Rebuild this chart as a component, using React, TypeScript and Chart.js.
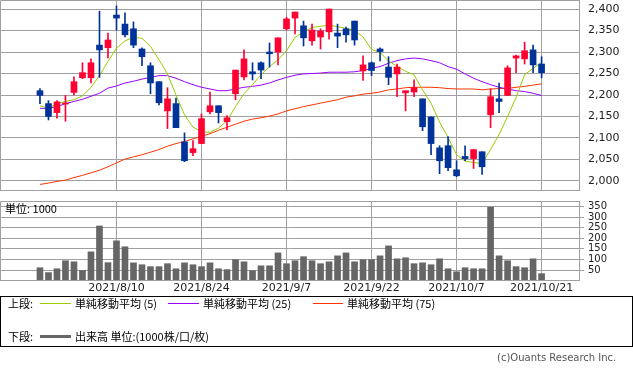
import React, { useEffect, useRef } from "react";
import { Chart, registerables } from "chart.js";
Chart.register(...registerables);

// trading days 2021/7/27 .. 2021/10/21 (index 0..59)
const tickIndex = [9, 19, 29, 39, 49, 59];
const tickLabels = ["2021/8/10", "2021/8/24", "2021/9/7", "2021/9/22", "2021/10/7", "2021/10/21"];

const openP = [2210, 2180, 2159, 2179, 2206, 2240, 2240, 2316, 2310, 2386, 2365, 2354, 2307, 2268, 2231, 2163, 2180, 2091, 2066, 2087, 2161, 2175, 2138, 2203, 2242, 2254, 2275, 2300, 2300, 2354, 2379, 2361, 2326, 2335, 2347, 2344, 2354, 2372, 2256, 2275, 2307, 2265, 2249, 2205, 2207, 2191, 2149, 2077, 2082, 2026, 2057, 2052, 2068, 2154, 2191, 2199, 2286, 2284, 2305, 2272];
const highP = [2215, 2187, 2187, 2199, 2242, 2275, 2284, 2395, 2344, 2407, 2391, 2370, 2310, 2275, 2231, 2217, 2193, 2112, 2094, 2156, 2207, 2175, 2152, 2258, 2305, 2275, 2277, 2321, 2333, 2381, 2393, 2372, 2365, 2354, 2400, 2365, 2358, 2372, 2291, 2277, 2310, 2289, 2272, 2210, 2235, 2191, 2149, 2082, 2103, 2047, 2082, 2073, 2068, 2214, 2228, 2268, 2293, 2323, 2316, 2289];
const lowP = [2180, 2142, 2146, 2139, 2200, 2238, 2228, 2241, 2286, 2351, 2335, 2310, 2268, 2203, 2177, 2122, 2124, 2045, 2059, 2087, 2156, 2135, 2119, 2189, 2235, 2235, 2238, 2265, 2270, 2351, 2342, 2314, 2316, 2307, 2330, 2310, 2323, 2316, 2234, 2245, 2279, 2224, 2196, 2163, 2196, 2117, 2061, 2017, 2024, 2010, 2047, 2029, 2015, 2124, 2159, 2199, 2252, 2272, 2252, 2240];
const closeP = [2199, 2150, 2184, 2181, 2231, 2252, 2275, 2305, 2328, 2379, 2340, 2316, 2289, 2228, 2182, 2191, 2124, 2047, 2075, 2145, 2175, 2159, 2147, 2258, 2284, 2249, 2258, 2296, 2333, 2377, 2393, 2333, 2351, 2349, 2400, 2337, 2340, 2328, 2270, 2257, 2301, 2241, 2265, 2210, 2217, 2126, 2087, 2047, 2031, 2012, 2052, 2073, 2033, 2196, 2185, 2263, 2291, 2303, 2270, 2252];

const volume = [61, 38, 56, 94, 89, 48, 136, 258, 85, 188, 160, 84, 75, 66, 66, 80, 56, 84, 75, 66, 84, 56, 52, 99, 89, 47, 70, 70, 131, 80, 94, 113, 94, 80, 89, 117, 131, 89, 99, 99, 117, 164, 103, 108, 80, 84, 75, 103, 56, 42, 61, 56, 56, 347, 117, 94, 66, 61, 103, 33];

const sma5 = [2175, 2169, 2180, 2185, 2189, 2198, 2218, 2245, 2278, 2309, 2326, 2334, 2332, 2313, 2282, 2249, 2200, 2154, 2125, 2115, 2113, 2123, 2140, 2173, 2203, 2224, 2247, 2266, 2282, 2303, 2334, 2347, 2357, 2360, 2362, 2359, 2355, 2350, 2335, 2306, 2299, 2279, 2267, 2255, 2247, 2212, 2181, 2137, 2101, 2061, 2046, 2043, 2040, 2073, 2108, 2150, 2194, 2247, 2262, 2276];
const sma25 = [2169, 2169, 2173, 2180, 2185, 2190, 2197, 2204, 2216, 2221, 2228, 2232, 2237, 2241, 2245, 2245, 2239, 2231, 2224, 2218, 2214, 2210, 2210, 2214, 2218, 2220, 2223, 2228, 2235, 2241, 2246, 2249, 2250, 2251, 2253, 2253, 2253, 2254, 2257, 2262, 2266, 2274, 2280, 2284, 2286, 2284, 2280, 2275, 2266, 2260, 2249, 2239, 2231, 2224, 2218, 2214, 2210, 2208, 2204, 2199];
const sma75 = [1992, 1995, 1999, 2002, 2008, 2013, 2019, 2025, 2033, 2042, 2051, 2056, 2061, 2067, 2073, 2081, 2087, 2092, 2098, 2104, 2110, 2118, 2125, 2132, 2139, 2144, 2147, 2151, 2156, 2163, 2168, 2173, 2177, 2181, 2185, 2189, 2195, 2198, 2202, 2204, 2207, 2212, 2214, 2217, 2218, 2218, 2218, 2217, 2215, 2214, 2214, 2214, 2212, 2214, 2215, 2215, 2218, 2220, 2223, 2226];

const priceTicks = [2000, 2050, 2100, 2150, 2200, 2250, 2300, 2350, 2400];
const volumeTicks = [50, 100, 150, 200, 250, 300, 350];

const RED = "#ff0033";
const BLUE = "#003399";
const GRID = "#a0a0a0";
const X_MIN = -4.7;
const X_MAX = 63.4;

const framePlugin = {
  id: "frame",
  beforeDatasetsDraw(chart: any) {
    const { ctx, chartArea } = chart;
    ctx.save();
    ctx.strokeStyle = GRID;
    ctx.lineWidth = 1;
    ctx.beginPath();
    ctx.moveTo(chartArea.left + 0.5, chartArea.bottom);
    ctx.lineTo(chartArea.left + 0.5, chartArea.top + 0.5);
    ctx.lineTo(chartArea.right, chartArea.top + 0.5);
    ctx.stroke();
    ctx.restore();
  },
};

const idx = openP.map((_, i) => i);
const candleColor = (ctx: any) => (closeP[ctx.dataIndex] >= openP[ctx.dataIndex] ? RED : BLUE);

function xScale(showLabels: boolean, axisHeight: number) {
  return {
    type: "linear",
    min: X_MIN,
    max: X_MAX,
    offset: false,
    afterBuildTicks: (s: any) => {
      s.ticks = tickIndex.map((v) => ({ value: v }));
    },
    ticks: {
      display: showLabels,
      autoSkip: false,
      maxRotation: 0,
      padding: 2,
      color: "#222",
      font: { family: "DejaVu Sans", size: 11 },
      callback: (v: any) => {
        const k = tickIndex.indexOf(Number(v));
        return k >= 0 ? tickLabels[k] : "";
      },
    },
    grid: { color: GRID, drawTicks: false, offset: false },
    border: { color: GRID },
    afterFit: (s: any) => {
      s.height = axisHeight;
      s.paddingLeft = 0;
      s.paddingRight = 0;
    },
  };
}

function PriceChart() {
  const ref = useRef<HTMLCanvasElement>(null);
  useEffect(() => {
    const chart = new Chart(ref.current!, {
      type: "bar",
      data: {
        datasets: [
          { type: "line", data: idx.map((i) => ({ x: i, y: sma75[i] })), borderColor: "#ff3300", borderWidth: 1, pointRadius: 0, order: 5 },
          { type: "line", data: idx.map((i) => ({ x: i, y: sma25[i] })), borderColor: "#9900ff", borderWidth: 1, pointRadius: 0, order: 4 },
          { type: "line", data: idx.map((i) => ({ x: i, y: sma5[i] })), borderColor: "#99cc00", borderWidth: 1, pointRadius: 0, order: 3 },
          { type: "bar", data: idx.map((i) => ({ x: i, y: [lowP[i], highP[i]] })), backgroundColor: candleColor, barThickness: 1, grouped: false, order: 2 },
          { type: "bar", data: idx.map((i) => ({ x: i, y: [openP[i], closeP[i]] })), backgroundColor: candleColor, barThickness: 6, minBarLength: 1, grouped: false, order: 1 },
        ] as any,
      },
      options: {
        animation: false,
        responsive: false,
        events: [],
        layout: { padding: 0 },
        plugins: { legend: { display: false }, tooltip: { enabled: false } },
        scales: {
          x: xScale(false, 1) as any,
          y: {
            position: "right",
            min: 1979,
            max: 2421,
            afterBuildTicks: (s: any) => {
              s.ticks = priceTicks.map((v) => ({ value: v }));
            },
            ticks: {
              padding: 9,
              autoSkip: false,
              color: "#222",
              font: { family: "DejaVu Sans", size: 11 },
              callback: (v: any) => Number(v).toLocaleString("en-US"),
            },
            grid: { color: GRID, drawTicks: false },
            border: { color: GRID },
            afterFit: (s: any) => {
              s.width = 54;
              s.paddingTop = 0;
              s.paddingBottom = 0;
            },
          } as any,
        },
      },
      plugins: [framePlugin],
    });
    return () => chart.destroy();
  }, []);
  return <canvas ref={ref} width={633} height={191} style={{ position: "absolute", left: 0, top: 0, display: "block" }} />;
}

function VolumeChart() {
  const ref = useRef<HTMLCanvasElement>(null);
  useEffect(() => {
    const chart = new Chart(ref.current!, {
      type: "bar",
      data: {
        datasets: [
          { data: idx.map((i) => ({ x: i, y: volume[i] })), backgroundColor: "#666666", barThickness: 6, grouped: false },
        ] as any,
      },
      options: {
        animation: false,
        responsive: false,
        events: [],
        layout: { padding: { top: 6 } },
        plugins: { legend: { display: false }, tooltip: { enabled: false } },
        scales: {
          x: xScale(true, 20) as any,
          y: {
            position: "right",
            min: 3,
            max: 376,
            afterBuildTicks: (s: any) => {
              s.ticks = volumeTicks.map((v) => ({ value: v }));
            },
            ticks: {
              padding: 4,
              autoSkip: false,
              color: "#222",
              font: { family: "DejaVu Sans", size: 10 },
            },
            grid: { color: GRID, drawTicks: true, tickLength: 5 },
            border: { color: GRID },
            afterFit: (s: any) => {
              s.width = 54;
              s.paddingTop = 0;
              s.paddingBottom = 0;
            },
          } as any,
        },
      },
      plugins: [framePlugin],
    });
    return () => chart.destroy();
  }, []);
  return <canvas ref={ref} width={633} height={105} style={{ position: "absolute", left: 0, top: 195, display: "block" }} />;
}

const JP = '"Noto Sans CJK JP", sans-serif';

function Txt({ left, cy, children, size = 11, color = "#000", family = JP }: any) {
  return (
    <div style={{ position: "absolute", left, top: cy - 7, height: 14, lineHeight: "14px", fontSize: size, fontFamily: family, color, whiteSpace: "nowrap" }}>
      {children}
    </div>
  );
}

function Swatch({ left, cy, color, h = 1, w = 31 }: any) {
  return <div style={{ position: "absolute", left, top: cy - Math.floor(h / 2), width: w, height: h, background: color }} />;
}

export default function App() {
  return (
    <div style={{ position: "absolute", left: 0, top: 0, width: 633, height: 373, background: "#fff", overflow: "hidden" }}>
      <PriceChart />
      <VolumeChart />
      <Txt left={5} cy={208}>単位: 1000</Txt>
      <div style={{ position: "absolute", left: 0, top: 296, width: 633, height: 51, boxSizing: "border-box", border: "1px solid #000" }} />
      <Txt left={8} cy={303}>上段:</Txt>
      <Swatch left={40} cy={303} color="#99cc00" />
      <Txt left={75} cy={303}>単純移動平均 (5)</Txt>
      <Swatch left={168} cy={303} color="#9900ff" />
      <Txt left={203} cy={303}>単純移動平均 (25)</Txt>
      <Swatch left={313} cy={303} color="#ff3300" w={30} />
      <Txt left={347} cy={303}>単純移動平均 (75)</Txt>
      <Txt left={8} cy={336}>下段:</Txt>
      <Swatch left={40} cy={336} color="#666666" h={3} />
      <Txt left={75} cy={336}>出来高 単位:(1000株/口/枚)</Txt>
      <Txt left={497} cy={358} size={10} color="#555" family='"DejaVu Sans", sans-serif'>(c)Ouants Research Inc.</Txt>
    </div>
  );
}
